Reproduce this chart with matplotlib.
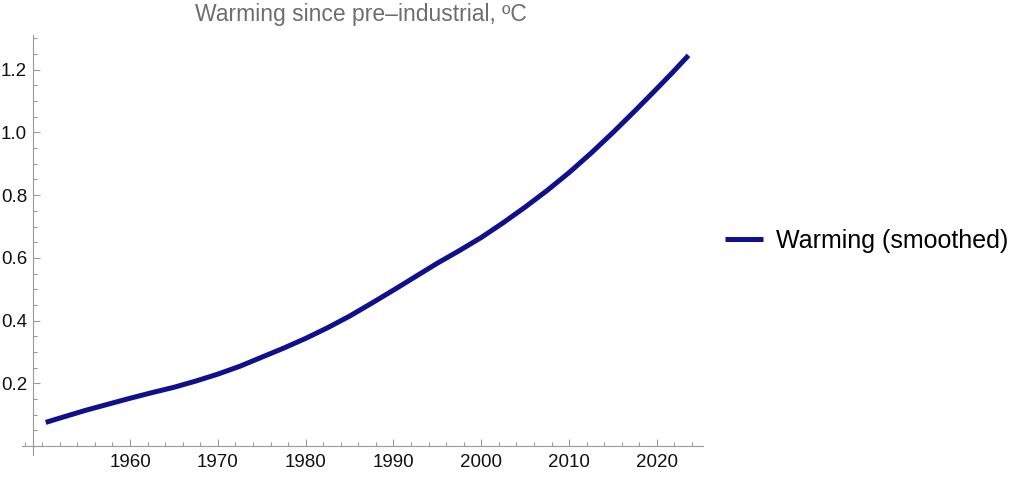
import numpy as np
import matplotlib
matplotlib.use('Agg')
import matplotlib.pyplot as plt
from matplotlib.ticker import MultipleLocator, FixedLocator

# smoothed warming
years = [1950.4, 1952.5, 1955, 1957.5, 1960, 1962.5, 1965, 1967.5, 1970, 1972.5, 1975, 1977.5,
         1980, 1982.5, 1985, 1987.5, 1990, 1992.5, 1995, 1997.5, 2000, 2002.5, 2005, 2007.5,
         2010, 2012.5, 2015, 2017.5, 2020, 2021.8, 2023.6]
warming = [0.075, 0.093, 0.114, 0.133, 0.152, 0.170, 0.187, 0.207, 0.229, 0.254, 0.283, 0.312,
           0.343, 0.377, 0.414, 0.455, 0.497, 0.540, 0.583, 0.623, 0.665, 0.712, 0.762, 0.815,
           0.872, 0.934, 1.0, 1.069, 1.14, 1.192, 1.246]

x_ticks = [1960, 1970, 1980, 1990, 2000, 2010, 2020]
y_ticks = [0.2, 0.4, 0.6, 0.8, 1.0, 1.2]

plt.rcParams['font.family'] = ['Liberation Sans', 'DejaVu Sans']

W, H = 1024, 483
fig = plt.figure(figsize=(W / 100, H / 100), dpi=100)
ax = fig.add_axes([22 / W, 1 - 455 / H, (703 - 22) / W, (455 - 35) / H])

line_col = '#10108e'
axis_col = '#9a9a9a'

ax.plot(years, warming, color=line_col, linewidth=3.6, solid_capstyle='butt',
        solid_joinstyle='round', label='Warming (smoothed)')

ax.set_xlim(1947.7, 2025.25)
ax.set_ylim(-0.029, 1.311)

ax.spines['left'].set_position(('data', 1949))
ax.spines['bottom'].set_position(('data', 0))
ax.spines['right'].set_visible(False)
ax.spines['top'].set_visible(False)
for s in ('left', 'bottom'):
    ax.spines[s].set_color(axis_col)
    ax.spines[s].set_linewidth(0.8)

ax.xaxis.set_major_locator(FixedLocator(x_ticks))
ax.xaxis.set_minor_locator(MultipleLocator(2))
ax.yaxis.set_major_locator(FixedLocator(y_ticks))
ax.yaxis.set_minor_locator(MultipleLocator(0.05))
ax.set_xticklabels([str(t) for t in x_ticks])
ax.set_yticklabels(['%.1f' % t for t in y_ticks])

ax.tick_params(axis='both', which='both', direction='in', color=axis_col, width=0.8,
               labelsize=13.5, labelcolor='#111111')
ax.tick_params(axis='both', which='major', length=5)
ax.tick_params(axis='both', which='minor', length=3)
ax.tick_params(axis='x', which='major', pad=6)
ax.tick_params(axis='y', which='major', pad=4.5)

fig.text(360.5 / W, 1 - 15 / H, 'Warming since pre\u2013industrial, \u00baC', ha='center', va='center',
         fontsize=16.5, color='#6e6e6e')

fig.legend(loc='center left', bbox_to_anchor=(725 / W, 1 - 241 / H), bbox_transform=fig.transFigure,
           frameon=False, borderpad=0, borderaxespad=0, handlelength=1.5, handletextpad=0.55,
           fontsize=18)

fig.savefig('out.png', dpi=100)
